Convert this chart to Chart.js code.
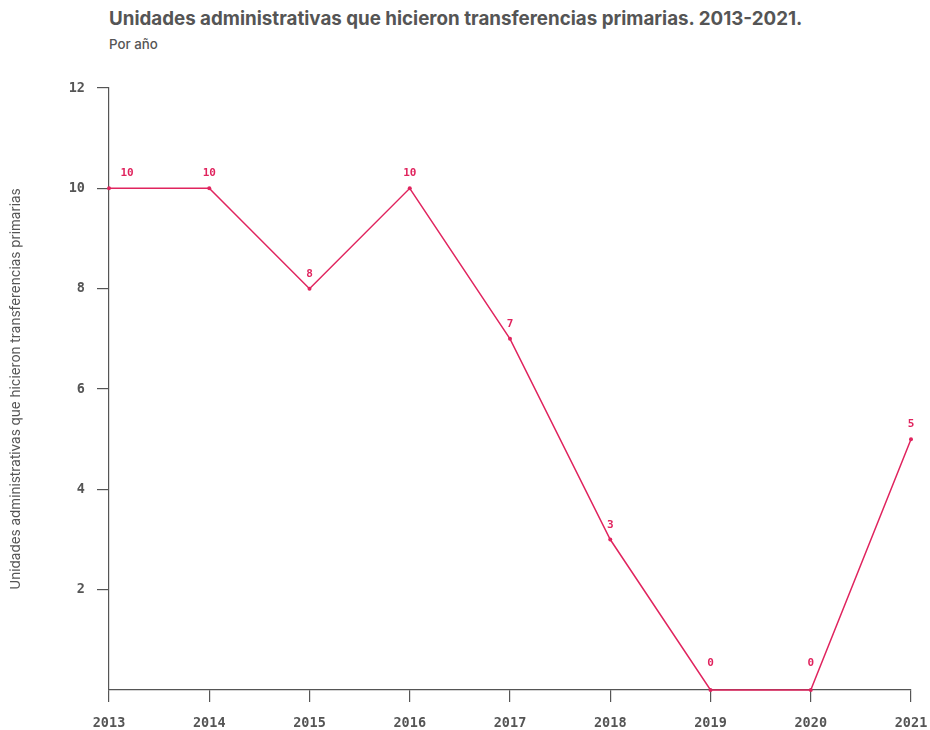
<!DOCTYPE html>
<html>
<head>
<meta charset="utf-8">
<script src="https://cdn.jsdelivr.net/npm/chart.js@4.4.0/dist/chart.umd.min.js"></script>
<style>
  html, body { margin: 0; padding: 0; background: #fff; }
  #wrap { position: relative; width: 930px; height: 730px; }
  #title { position: absolute; left: 109px; top: 7px; font-family: Inter, "Noto Sans", sans-serif; font-weight: 700; font-size: 18.75px; color: #555; white-space: nowrap; }
  #subtitle { position: absolute; left: 109px; top: 36px; font-family: Inter, "Noto Sans", sans-serif; font-weight: 500; font-size: 13.3px; color: #555; white-space: nowrap; }
  canvas { position: absolute; left: 0; top: 0; }
</style>
</head>
<body>
<div id="wrap">
  <div id="title">Unidades administrativas que hicieron transferencias primarias. 2013-2021.</div>
  <div id="subtitle">Por año</div>
  <canvas id="c" width="930" height="730"></canvas>
</div>
<script>
const years = ["2013","2014","2015","2016","2017","2018","2019","2020","2021"];
const unidades = [10, 10, 8, 10, 7, 3, 0, 0, 5];
const yTicks = [2, 4, 6, 8, 10, 12];
const yTitle = "Unidades administrativas que hicieron transferencias primarias";

const PINK = "#e0245e";
const GRAY = "#555555";
const MONO = "'DejaVu Sans Mono', 'Liberation Mono', monospace";

const labelPlugin = {
  id: "pointLabels",
  afterDatasetsDraw(chart) {
    const ctx = chart.ctx;
    const meta = chart.getDatasetMeta(0);
    ctx.save();
    ctx.font = "bold 11px " + MONO;
    ctx.fillStyle = PINK;
    ctx.textAlign = "center";
    ctx.textBaseline = "alphabetic";
    meta.data.forEach((pt, i) => {
      const v = unidades[i];
      let dx = i === 0 ? 18 : 0;
      let dy = v === 0 ? 24 : 12;
      ctx.fillText(String(v), pt.x + dx, pt.y - dy);
    });
    ctx.restore();
  }
};

new Chart(document.getElementById("c"), {
  type: "line",
  data: {
    labels: years,
    datasets: [{
      data: unidades,
      borderColor: PINK,
      backgroundColor: PINK,
      borderWidth: 1.5,
      pointRadius: 2,
      pointBorderWidth: 0,
      pointBackgroundColor: PINK,
      tension: 0,
      clip: false
    }]
  },
  options: {
    responsive: false,
    animation: false,
    devicePixelRatio: 1,
    layout: { padding: { top: 88, right: 19, left: 0, bottom: 0 } },
    plugins: { legend: { display: false }, tooltip: { enabled: false } },
    scales: {
      x: {
        offset: false,
        grid: { display: true, drawOnChartArea: false, drawTicks: true, tickLength: 12, color: GRAY, lineWidth: 1.2 },
        border: { display: true, color: GRAY, width: 1.2 },
        ticks: { color: GRAY, font: { family: MONO, weight: "bold", size: 13.5 }, padding: 13, maxRotation: 0, autoSkip: false },
        afterFit(s) { s.height = 40; s.paddingRight = 0; s.paddingLeft = 0; }
      },
      y: {
        min: 0, max: 12,
        afterBuildTicks(s) { s.ticks = yTicks.map(v => ({ value: v })); },
        grid: { display: true, drawOnChartArea: false, drawTicks: true, tickLength: 12, color: GRAY, lineWidth: 1.2 },
        border: { display: true, color: GRAY, width: 1.2 },
        ticks: { color: GRAY, font: { family: MONO, weight: "bold", size: 13.5 }, padding: 12 },
        title: { display: true, text: yTitle, color: GRAY, font: { family: "Inter, 'Noto Sans', sans-serif", size: 13.5, weight: "normal" }, padding: { top: 8, bottom: 0 } },
        afterFit(s) { s.width = 109; s.paddingTop = 0; s.paddingBottom = 0; }
      }
    }
  },
  plugins: [labelPlugin]
});
</script>
</body>
</html>
